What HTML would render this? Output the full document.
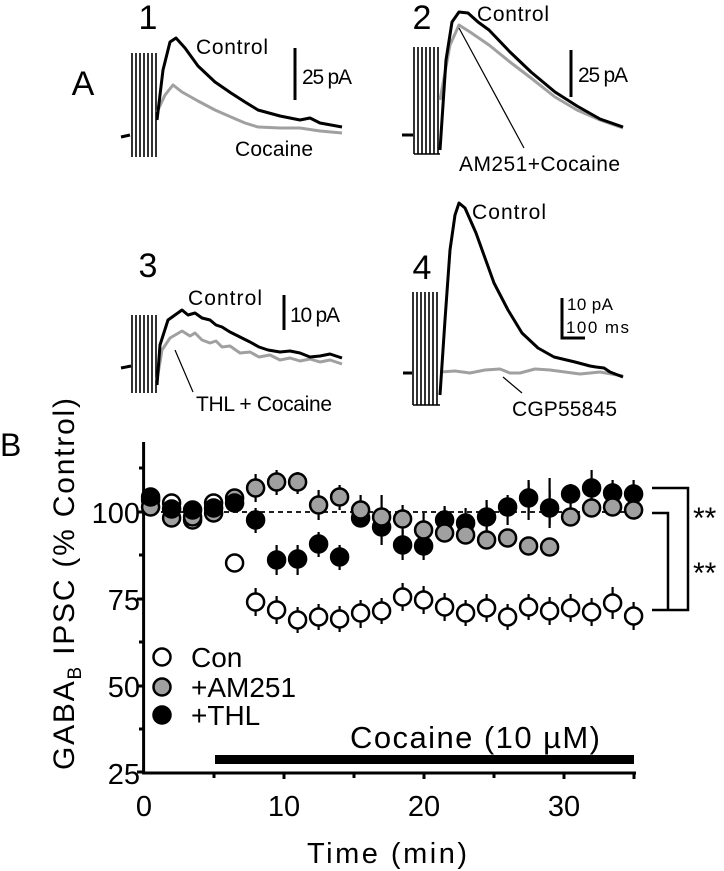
<!DOCTYPE html>
<html><head><meta charset="utf-8"><style>
html,body{margin:0;padding:0;background:#fff}
svg{display:block}
text{font-family:"Liberation Sans",sans-serif;fill:#000}
</style></head><body>
<svg width="724" height="871" viewBox="0 0 724 871" xmlns="http://www.w3.org/2000/svg">
<g font-size="34">
<text x="83" y="95" text-anchor="middle">A</text>
<text x="148" y="29" text-anchor="middle">1</text>
<text x="422" y="29" text-anchor="middle">2</text>
<text x="148" y="277" text-anchor="middle">3</text>
<text x="422" y="279" text-anchor="middle">4</text>
</g>
<g stroke="#000" stroke-width="1.6">
<path d="M132 53V157M136 53V157M140 53V157M144 53V157M148 53V157M152 53V157M156 53V157"/>
<path d="M414 47V154M418 47V154M422 47V154M426 47V154M430 47V154M434 47V154M438 47V154M414 154H440"/>
<path d="M132 315V393M136 315V393M140 315V393M144 315V393M148 315V393M152 315V393M156 315V393"/>
<path d="M413 292V405M417 292V405M421 292V405M425 292V405M429 292V405M433 292V405M437 292V405M413 405H440"/>
</g>
<g fill="none" stroke-width="3" stroke-linejoin="round">
<path stroke="#a0a0a0" d="M157 112 L165 95 L173 85 L182 92 L198 101 L215 110 L231 117 L245 123 L258 127 L280 128 L300 128 L320 131 L342 133"/>
<path stroke="#000" d="M121 137 L130 135 M157 120 L163 70 L170 42 L176 38 L185 48 L198 66 L215 82 L231 93 L245 102 L258 110 L280 116 L300 120 L310 118 L320 123 L342 127"/>
<path stroke="#a0a0a0" d="M440 100 L450 45 L459 25 L470 32 L489 45 L510 62 L531 78 L555 97 L577 110 L600 120 L623 128"/>
<path stroke="#000" d="M402 135 L413 135 M440 150 L446 60 L452 22 L459 12 L468 13 L478 22 L489 30 L510 52 L531 72 L555 92 L577 106 L600 119 L623 127"/>
<path stroke="#a0a0a0" d="M157 380 L162 350 L170 338 L182 331 L190 336 L195 333 L202 340 L210 343 L216 341 L222 347 L230 346 L240 353 L250 352 L259 357 L270 355 L280 360 L290 358 L300 361 L310 359 L320 362 L330 360 L342 364"/>
<path stroke="#000" d="M121 368 L131 366 M157 385 L160 345 L168 320 L175 315 L182 310 L188 315 L195 313 L202 318 L210 320 L216 325 L222 327 L230 332 L240 337 L250 342 L259 347 L268 350 L280 352 L290 351 L300 353 L310 357 L320 356 L330 354 L342 358"/>
<path stroke="#a0a0a0" d="M440 372 L455 371 L470 373 L485 370 L500 369 L510 373 L520 373 L535 369 L550 370 L565 372 L580 374 L600 372 L623 376"/>
<path stroke="#000" d="M403 373 L412 373 M440 395 L445 320 L450 250 L455 215 L459 203 L465 208 L476 233 L485 258 L494 283 L508 310 L522 333 L538 348 L554 357 L575 362 L590 366 L596 367 L604 368 L610 372 L623 377"/>
</g>
<g stroke="#000" stroke-width="3" fill="none">
<path d="M295 48V100"/><path d="M571 50V97"/><path d="M284 295V330"/><path d="M562 298V338H585"/>
</g>
<g stroke="#000" stroke-width="1.2">
<path d="M459 28L524 148"/><path d="M175 350L193 392"/><path d="M503 377L522 393"/>
</g>
<g font-size="21">
<text x="196" y="54" textLength="72">Control</text>
<text x="235" y="156" textLength="78">Cocaine</text>
<text x="302" y="84" textLength="50">25 pA</text>
<text x="477" y="21" textLength="72">Control</text>
<text x="578" y="82" textLength="50">25 pA</text>
<text x="459" y="171" textLength="161">AM251+Cocaine</text>
<text x="188" y="305" textLength="74">Control</text>
<text x="290" y="322" textLength="50">10 pA</text>
<text x="196" y="411" textLength="136">THL + Cocaine</text>
<text x="472" y="219" textLength="74">Control</text>
<text x="512" y="416" textLength="105">CGP55845</text>
</g>
<g font-size="17">
<text x="567" y="310" textLength="46">10 pA</text>
<text x="566" y="333" textLength="63">100 ms</text>
</g>
<text x="0" y="456" font-size="32">B</text>
<text transform="translate(74,584) rotate(-90)" font-size="30" text-anchor="middle" textLength="372">GABA<tspan font-size="19" dy="7">B</tspan><tspan dy="-7"> IPSC (% Control)</tspan></text>
<g stroke="#000" stroke-width="3" fill="none">
<path d="M143.6 442V773H636"/>
<path d="M137 512H143M137 599H143M137 686H143M137 772H143M139 468H143M139 555H143M139 642H143M139 729H143"/>
<path d="M214 773v5M284 773v6M354 773v5M424 773v6M494 773v5M564 773v6M634 773v6"/>
</g>
<rect x="215" y="755" width="419" height="9" fill="#000"/>
<path d="M143 512H636" stroke="#000" stroke-width="1.8" stroke-dasharray="5,4"/>
<g font-size="29" text-anchor="end">
<text x="140" y="523">100</text><text x="140" y="610">75</text><text x="140" y="697">50</text><text x="140" y="784">25</text>
</g>
<g font-size="29" text-anchor="middle">
<text x="144" y="816">0</text><text x="284" y="816">10</text><text x="424" y="816">20</text><text x="564" y="816">30</text>
<text x="387" y="863" textLength="160">Time (min)</text>
<text x="475" y="748" font-size="31" textLength="250">Cocaine (10 µM)</text>
</g>
<g stroke="#000" stroke-width="2.5" fill="none">
<path d="M652 488H688V610H652M652 513H668V610"/>
</g>
<text x="693" y="528" font-size="30">**</text>
<text x="693" y="583" font-size="30">**</text>
<g stroke="#000" stroke-width="2.2">
<path d="M234.6 491v20M255.6 474v28M276.6 470v25M297.6 472v22M318.6 490v30M339.6 485v25M360.6 495v30M381.6 495v40M402.6 505v30M423.6 513v30M444.6 506v30M465.6 508v30M486.6 500v35M507.6 495v30M528.6 480v40M549.6 478v50M570.6 484v28M591.6 470v35M612.6 480v30M633.6 480v30"/>
<path d="M255.6 508v25M276.6 545v30M297.6 545v30M318.6 532v25M339.6 545v25M381.6 510v35M402.6 530v30M423.6 530v30M444.6 508v25M486.6 505v25M528.6 483v30M549.6 490v35"/>
<path d="M255.6 588v28M276.6 596v28M297.6 607v26M318.6 604v26M339.6 606v26M360.6 600v28M381.6 598v26M402.6 583v28M423.6 586v28M444.6 593v28M465.6 600v26M486.6 594v28M507.6 604v26M528.6 594v26M549.6 597v28M570.6 594v28M591.6 598v28M612.6 587v32M633.6 602v28"/>
</g>
<g stroke="#000" stroke-width="2.5">
<g fill="#fff">
<circle cx="150.6" cy="500" r="8.5"/><circle cx="171.6" cy="503" r="8.5"/><circle cx="192.6" cy="520" r="8.5"/><circle cx="213.6" cy="503" r="8.5"/>
</g>
<g fill="#a0a0a0">
<circle cx="150.6" cy="507" r="8.5"/><circle cx="171.6" cy="518" r="8.5"/><circle cx="192.6" cy="517" r="8.5"/><circle cx="213.6" cy="513" r="8.5"/>
<circle cx="234.6" cy="498" r="8.5"/><circle cx="255.6" cy="488" r="8.5"/><circle cx="276.6" cy="482" r="8.5"/><circle cx="297.6" cy="482" r="8.5"/><circle cx="318.6" cy="505" r="8.5"/><circle cx="339.6" cy="497" r="8.5"/>
</g>
<g fill="#000">
<circle cx="150.6" cy="497" r="8.5"/><circle cx="171.6" cy="509" r="8.5"/><circle cx="192.6" cy="510" r="8.5"/><circle cx="213.6" cy="508" r="8.5"/><circle cx="234.6" cy="503" r="8.5"/>
<circle cx="255.6" cy="520" r="8.5"/><circle cx="276.6" cy="560" r="8.5"/><circle cx="297.6" cy="559" r="8.5"/><circle cx="318.6" cy="544" r="8.5"/><circle cx="339.6" cy="557" r="8.5"/>
<circle cx="360.6" cy="518" r="8.5"/><circle cx="381.6" cy="527" r="8.5"/><circle cx="402.6" cy="545" r="8.5"/><circle cx="423.6" cy="546" r="8.5"/><circle cx="444.6" cy="520" r="8.5"/><circle cx="465.6" cy="523" r="8.5"/><circle cx="486.6" cy="517" r="8.5"/><circle cx="507.6" cy="507" r="8.5"/><circle cx="528.6" cy="498" r="8.5"/><circle cx="549.6" cy="508" r="8.5"/><circle cx="570.6" cy="494" r="8.5"/><circle cx="591.6" cy="488" r="8.5"/><circle cx="612.6" cy="493" r="8.5"/><circle cx="633.6" cy="494" r="8.5"/>
</g>
<g fill="#a0a0a0">
<circle cx="360.6" cy="510" r="8.5"/><circle cx="381.6" cy="517" r="8.5"/><circle cx="402.6" cy="519" r="8.5"/><circle cx="423.6" cy="530" r="8.5"/><circle cx="444.6" cy="533" r="8.5"/><circle cx="465.6" cy="535" r="8.5"/><circle cx="486.6" cy="540" r="8.5"/><circle cx="507.6" cy="538" r="8.5"/><circle cx="528.6" cy="546" r="8.5"/><circle cx="549.6" cy="547" r="8.5"/><circle cx="570.6" cy="517" r="8.5"/><circle cx="591.6" cy="508" r="8.5"/><circle cx="612.6" cy="507" r="8.5"/><circle cx="633.6" cy="510" r="8.5"/>
</g>
<g fill="#fff">
<circle cx="234.6" cy="563" r="8.5"/><circle cx="255.6" cy="602" r="8.5"/><circle cx="276.6" cy="610" r="8.5"/><circle cx="297.6" cy="620" r="8.5"/><circle cx="318.6" cy="617" r="8.5"/><circle cx="339.6" cy="619" r="8.5"/><circle cx="360.6" cy="613" r="8.5"/><circle cx="381.6" cy="611" r="8.5"/><circle cx="402.6" cy="597" r="8.5"/><circle cx="423.6" cy="600" r="8.5"/><circle cx="444.6" cy="607" r="8.5"/><circle cx="465.6" cy="613" r="8.5"/><circle cx="486.6" cy="608" r="8.5"/><circle cx="507.6" cy="617" r="8.5"/><circle cx="528.6" cy="607" r="8.5"/><circle cx="549.6" cy="611" r="8.5"/><circle cx="570.6" cy="608" r="8.5"/><circle cx="591.6" cy="612" r="8.5"/><circle cx="612.6" cy="603" r="8.5"/><circle cx="633.6" cy="616" r="8.5"/>
</g>
<circle cx="162" cy="657" r="8.5" fill="#fff"/>
<circle cx="162" cy="687" r="8.5" fill="#a0a0a0"/>
<circle cx="162" cy="715" r="8.5" fill="#000"/>
</g>
<g font-size="28">
<text x="191" y="667">Con</text>
<text x="191" y="697">+AM251</text>
<text x="191" y="725">+THL</text>
</g>
</svg>
</body></html>
